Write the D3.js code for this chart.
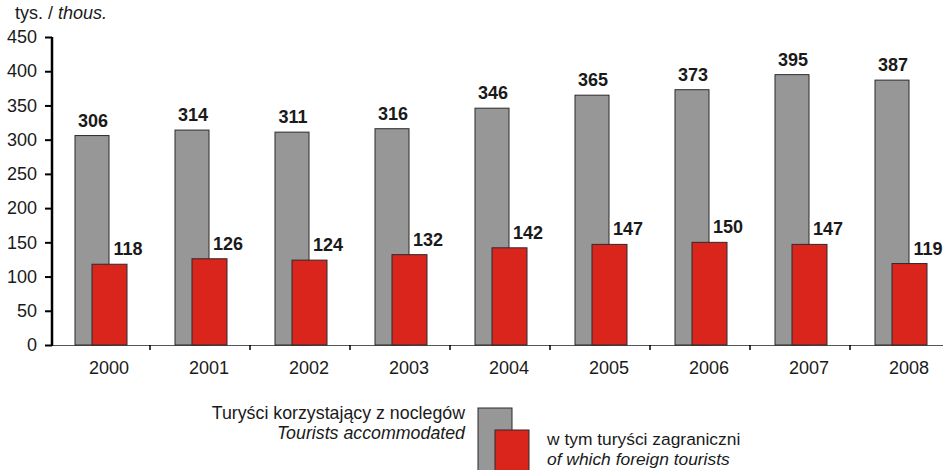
<!DOCTYPE html>
<html><head><meta charset="utf-8">
<script src="https://cdn.jsdelivr.net/npm/d3@7"></script>
<style>body{margin:0;background:#fff}svg{display:block;font-family:"Liberation Sans",Arial,sans-serif}</style>
</head><body><svg id="c" width="943" height="470"></svg>
<script>
const years = ["2000","2001","2002","2003","2004","2005","2006","2007","2008"];
const accommodated = [306,314,311,316,346,365,373,395,387];
const foreign = [118,126,124,132,142,147,150,147,119];
const yTicks = [0,50,100,150,200,250,300,350,400,450];
const unitLabel = ["tys. / ", "thous."];
const legendGray = ["Turyści korzystający z noclegów", "Tourists accommodated"];
const legendRed = ["w tym turyści zagraniczni", "of which foreign tourists"];

const svg = d3.select("#c");
const x = d3.scaleBand().domain(years).range([50, 950]);
const y = d3.scaleLinear().domain([0, 450]).range([345, 37]);
const GRAY = "#979797", RED = "#da251d", STROKE = "#2a2a2a", TXT = "#1a1a1a";

// x axis line
svg.append("line").attr("x1", 52).attr("x2", 943).attr("y1", y(0)+0.5).attr("y2", y(0)+0.5)
  .attr("stroke", "#555").attr("stroke-width", 1);
// x ticks between categories
svg.selectAll(".xt").data(years.slice(1)).join("line")
  .attr("x1", d => x(d)).attr("x2", d => x(d))
  .attr("y1", y(0)).attr("y2", y(0)+5).attr("stroke", "#000").attr("stroke-width", 1.5);

// bars
const g = svg.append("g");
g.selectAll(".g").data(years).join("rect")
  .attr("x", d => x(d)+25).attr("width", 34)
  .attr("y", (d,i) => y(accommodated[i])).attr("height", (d,i) => y(0)-y(accommodated[i]))
  .attr("fill", GRAY).attr("stroke", STROKE).attr("stroke-width", 1);
g.selectAll(".r").data(years).join("rect")
  .attr("x", d => x(d)+42).attr("width", 35)
  .attr("y", (d,i) => y(foreign[i])).attr("height", (d,i) => y(0)-y(foreign[i]))
  .attr("fill", RED).attr("stroke", STROKE).attr("stroke-width", 1);

// value labels
svg.selectAll(".gl").data(years).join("text")
  .attr("x", d => x(d)+43).attr("y", (d,i) => y(accommodated[i]) - 9)
  .attr("text-anchor", "middle").attr("font-size", 18).attr("font-weight", "bold").attr("fill", TXT)
  .text((d,i) => accommodated[i]);
svg.selectAll(".rl").data(years).join("text")
  .attr("x", d => x(d)+78).attr("y", (d,i) => y(foreign[i]) - 9)
  .attr("text-anchor", "middle").attr("font-size", 18).attr("font-weight", "bold").attr("fill", TXT)
  .text((d,i) => foreign[i]);

// y axis
const ya = svg.append("g").attr("transform", "translate(52,0)")
  .call(d3.axisLeft(y).tickValues(yTicks).tickSize(7).tickPadding(8));
ya.select(".domain").attr("stroke", "#000").attr("stroke-width", 2.5).attr("d", `M0,${y(450)}V${y(0)+1}`);
ya.selectAll(".tick line").attr("stroke", "#000").attr("stroke-width", 2);
ya.selectAll(".tick text").attr("font-size", 18).attr("fill", TXT)
  .attr("font-family", "'Liberation Sans',Arial,sans-serif");

// year labels
svg.selectAll(".yl").data(years).join("text")
  .attr("x", d => x(d) + x.bandwidth()/2 + 9).attr("y", 374)
  .attr("text-anchor", "middle").attr("font-size", 18).attr("fill", TXT).text(d => d);

// unit label
const ut = svg.append("text").attr("x", 15).attr("y", 19).attr("font-size", 18).attr("fill", TXT);
ut.append("tspan").text(unitLabel[0]);
ut.append("tspan").attr("font-style", "italic").text(unitLabel[1]);

// legend
svg.append("rect").attr("x", 478).attr("y", 408).attr("width", 34).attr("height", 75)
  .attr("fill", GRAY).attr("stroke", STROKE);
svg.append("rect").attr("x", 495).attr("y", 430).attr("width", 34).attr("height", 55)
  .attr("fill", RED).attr("stroke", STROKE);
svg.append("text").attr("x", 465).attr("y", 419).attr("text-anchor", "end").attr("font-size", 17.8)
  .attr("fill", TXT).text(legendGray[0]);
svg.append("text").attr("x", 465).attr("y", 439).attr("text-anchor", "end").attr("font-size", 17.8)
  .attr("font-style", "italic").attr("fill", TXT).text(legendGray[1]);
svg.append("text").attr("x", 547).attr("y", 445).attr("font-size", 17.4)
  .attr("fill", TXT).text(legendRed[0]);
svg.append("text").attr("x", 547).attr("y", 465).attr("font-size", 17.4)
  .attr("font-style", "italic").attr("fill", TXT).text(legendRed[1]);
</script></body></html>
